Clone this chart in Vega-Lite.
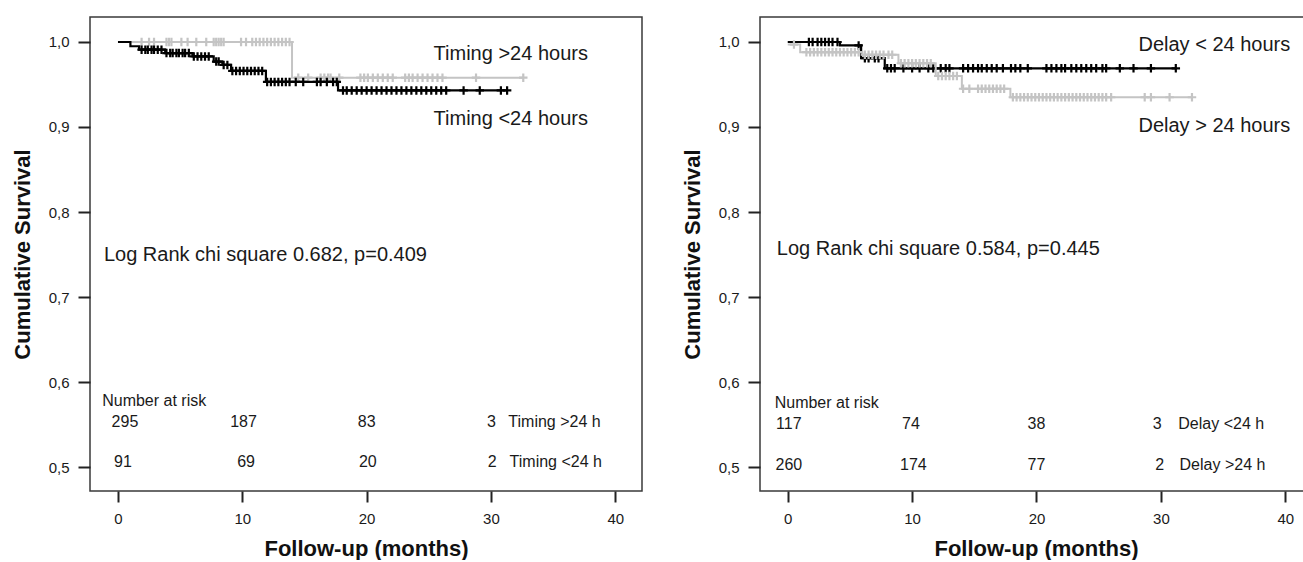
{
  "$schema": "https://vega.github.io/schema/vega-lite/v6.json",
  "autosize": {"type": "pad"},
  "padding": {"left": 10, "top": 16, "right": 0, "bottom": 0},
  "bounds": "flush",
  "spacing": 118,
  "background": "white",
  "config": {
    "font": "Liberation Sans",
    "view": {"stroke": "#3a3a3a", "strokeWidth": 1.5},
    "axis": {"grid": false, "domain": false, "tickColor": "#222", "tickWidth": 2, "labelColor": "#1a1a1a", "labelFont": "Liberation Sans", "labelFontSize": 15, "titleFont": "Liberation Sans", "titleFontWeight": "bold", "titleFontSize": 22, "titleColor": "#111"},
    "axisX": {"tickSize": 11, "labelPadding": 9, "titlePadding": 12},
    "axisY": {"tickSize": 12, "labelPadding": 9, "titlePadding": 14},
    "text": {"font": "Liberation Sans", "color": "#1a1a1a"},
    "point": {"shape": "M-1,0H1M0,-1V1", "filled": false, "size": 72, "strokeWidth": 2.2, "opacity": 1}
  },
  "datasets": {
    "kmL": [
      {"group": "Timing >24 hours", "t": 0, "s": 1.0},
      {"group": "Timing >24 hours", "t": 14.0, "s": 0.958},
      {"group": "Timing >24 hours", "t": 32.6, "s": 0.958},
      {"group": "Timing <24 hours", "t": 0, "s": 1.0},
      {"group": "Timing <24 hours", "t": 1.0, "s": 0.995},
      {"group": "Timing <24 hours", "t": 1.7, "s": 0.991},
      {"group": "Timing <24 hours", "t": 3.8, "s": 0.987},
      {"group": "Timing <24 hours", "t": 6.0, "s": 0.983},
      {"group": "Timing <24 hours", "t": 7.7, "s": 0.977},
      {"group": "Timing <24 hours", "t": 8.4, "s": 0.973},
      {"group": "Timing <24 hours", "t": 9.1, "s": 0.966},
      {"group": "Timing <24 hours", "t": 11.9, "s": 0.953},
      {"group": "Timing <24 hours", "t": 17.7, "s": 0.943},
      {"group": "Timing <24 hours", "t": 31.3, "s": 0.943}
    ],
    "censL": [
      {"group": "Timing >24 hours", "t": 1.9, "s": 1.0},
      {"group": "Timing >24 hours", "t": 2.5, "s": 1.0},
      {"group": "Timing >24 hours", "t": 2.9, "s": 1.0},
      {"group": "Timing >24 hours", "t": 3.9, "s": 1.0},
      {"group": "Timing >24 hours", "t": 4.1, "s": 1.0},
      {"group": "Timing >24 hours", "t": 4.3, "s": 1.0},
      {"group": "Timing >24 hours", "t": 5.1, "s": 1.0},
      {"group": "Timing >24 hours", "t": 5.6, "s": 1.0},
      {"group": "Timing >24 hours", "t": 6.3, "s": 1.0},
      {"group": "Timing >24 hours", "t": 7.1, "s": 1.0},
      {"group": "Timing >24 hours", "t": 7.7, "s": 1.0},
      {"group": "Timing >24 hours", "t": 7.9, "s": 1.0},
      {"group": "Timing >24 hours", "t": 8.1, "s": 1.0},
      {"group": "Timing >24 hours", "t": 8.3, "s": 1.0},
      {"group": "Timing >24 hours", "t": 8.5, "s": 1.0},
      {"group": "Timing >24 hours", "t": 9.9, "s": 1.0},
      {"group": "Timing >24 hours", "t": 10.3, "s": 1.0},
      {"group": "Timing >24 hours", "t": 10.8, "s": 1.0},
      {"group": "Timing >24 hours", "t": 11.1, "s": 1.0},
      {"group": "Timing >24 hours", "t": 11.4, "s": 1.0},
      {"group": "Timing >24 hours", "t": 11.7, "s": 1.0},
      {"group": "Timing >24 hours", "t": 12.0, "s": 1.0},
      {"group": "Timing >24 hours", "t": 12.3, "s": 1.0},
      {"group": "Timing >24 hours", "t": 12.6, "s": 1.0},
      {"group": "Timing >24 hours", "t": 12.9, "s": 1.0},
      {"group": "Timing >24 hours", "t": 13.2, "s": 1.0},
      {"group": "Timing >24 hours", "t": 13.5, "s": 1.0},
      {"group": "Timing >24 hours", "t": 13.8, "s": 1.0},
      {"group": "Timing >24 hours", "t": 14.5, "s": 0.958},
      {"group": "Timing >24 hours", "t": 15.3, "s": 0.958},
      {"group": "Timing >24 hours", "t": 16.3, "s": 0.958},
      {"group": "Timing >24 hours", "t": 16.6, "s": 0.958},
      {"group": "Timing >24 hours", "t": 16.9, "s": 0.958},
      {"group": "Timing >24 hours", "t": 17.1, "s": 0.958},
      {"group": "Timing >24 hours", "t": 17.8, "s": 0.958},
      {"group": "Timing >24 hours", "t": 19.5, "s": 0.958},
      {"group": "Timing >24 hours", "t": 19.8, "s": 0.958},
      {"group": "Timing >24 hours", "t": 20.1, "s": 0.958},
      {"group": "Timing >24 hours", "t": 20.5, "s": 0.958},
      {"group": "Timing >24 hours", "t": 20.9, "s": 0.958},
      {"group": "Timing >24 hours", "t": 21.3, "s": 0.958},
      {"group": "Timing >24 hours", "t": 21.7, "s": 0.958},
      {"group": "Timing >24 hours", "t": 22.1, "s": 0.958},
      {"group": "Timing >24 hours", "t": 23.1, "s": 0.958},
      {"group": "Timing >24 hours", "t": 23.4, "s": 0.958},
      {"group": "Timing >24 hours", "t": 23.7, "s": 0.958},
      {"group": "Timing >24 hours", "t": 24.1, "s": 0.958},
      {"group": "Timing >24 hours", "t": 24.5, "s": 0.958},
      {"group": "Timing >24 hours", "t": 24.9, "s": 0.958},
      {"group": "Timing >24 hours", "t": 25.3, "s": 0.958},
      {"group": "Timing >24 hours", "t": 25.7, "s": 0.958},
      {"group": "Timing >24 hours", "t": 26.1, "s": 0.958},
      {"group": "Timing >24 hours", "t": 28.8, "s": 0.958},
      {"group": "Timing >24 hours", "t": 32.6, "s": 0.958},
      {"group": "Timing <24 hours", "t": 1.9, "s": 0.991},
      {"group": "Timing <24 hours", "t": 2.2, "s": 0.991},
      {"group": "Timing <24 hours", "t": 2.4, "s": 0.991},
      {"group": "Timing <24 hours", "t": 2.7, "s": 0.991},
      {"group": "Timing <24 hours", "t": 2.9, "s": 0.991},
      {"group": "Timing <24 hours", "t": 3.2, "s": 0.991},
      {"group": "Timing <24 hours", "t": 3.5, "s": 0.991},
      {"group": "Timing <24 hours", "t": 3.9, "s": 0.987},
      {"group": "Timing <24 hours", "t": 4.2, "s": 0.987},
      {"group": "Timing <24 hours", "t": 4.4, "s": 0.987},
      {"group": "Timing <24 hours", "t": 4.7, "s": 0.987},
      {"group": "Timing <24 hours", "t": 4.9, "s": 0.987},
      {"group": "Timing <24 hours", "t": 5.2, "s": 0.987},
      {"group": "Timing <24 hours", "t": 5.4, "s": 0.987},
      {"group": "Timing <24 hours", "t": 5.7, "s": 0.987},
      {"group": "Timing <24 hours", "t": 6.1, "s": 0.983},
      {"group": "Timing <24 hours", "t": 6.4, "s": 0.983},
      {"group": "Timing <24 hours", "t": 6.7, "s": 0.983},
      {"group": "Timing <24 hours", "t": 7.0, "s": 0.983},
      {"group": "Timing <24 hours", "t": 7.3, "s": 0.983},
      {"group": "Timing <24 hours", "t": 7.9, "s": 0.977},
      {"group": "Timing <24 hours", "t": 8.1, "s": 0.977},
      {"group": "Timing <24 hours", "t": 8.5, "s": 0.973},
      {"group": "Timing <24 hours", "t": 8.8, "s": 0.973},
      {"group": "Timing <24 hours", "t": 9.2, "s": 0.966},
      {"group": "Timing <24 hours", "t": 9.5, "s": 0.966},
      {"group": "Timing <24 hours", "t": 9.8, "s": 0.966},
      {"group": "Timing <24 hours", "t": 10.1, "s": 0.966},
      {"group": "Timing <24 hours", "t": 10.4, "s": 0.966},
      {"group": "Timing <24 hours", "t": 10.7, "s": 0.966},
      {"group": "Timing <24 hours", "t": 11.0, "s": 0.966},
      {"group": "Timing <24 hours", "t": 11.3, "s": 0.966},
      {"group": "Timing <24 hours", "t": 11.6, "s": 0.966},
      {"group": "Timing <24 hours", "t": 12.0, "s": 0.953},
      {"group": "Timing <24 hours", "t": 12.3, "s": 0.953},
      {"group": "Timing <24 hours", "t": 12.6, "s": 0.953},
      {"group": "Timing <24 hours", "t": 12.9, "s": 0.953},
      {"group": "Timing <24 hours", "t": 13.2, "s": 0.953},
      {"group": "Timing <24 hours", "t": 13.5, "s": 0.953},
      {"group": "Timing <24 hours", "t": 13.8, "s": 0.953},
      {"group": "Timing <24 hours", "t": 14.3, "s": 0.953},
      {"group": "Timing <24 hours", "t": 14.9, "s": 0.953},
      {"group": "Timing <24 hours", "t": 16.0, "s": 0.953},
      {"group": "Timing <24 hours", "t": 16.3, "s": 0.953},
      {"group": "Timing <24 hours", "t": 16.8, "s": 0.953},
      {"group": "Timing <24 hours", "t": 17.3, "s": 0.953},
      {"group": "Timing <24 hours", "t": 17.6, "s": 0.953},
      {"group": "Timing <24 hours", "t": 18.1, "s": 0.943},
      {"group": "Timing <24 hours", "t": 18.4, "s": 0.943},
      {"group": "Timing <24 hours", "t": 18.8, "s": 0.943},
      {"group": "Timing <24 hours", "t": 19.2, "s": 0.943},
      {"group": "Timing <24 hours", "t": 19.6, "s": 0.943},
      {"group": "Timing <24 hours", "t": 20.0, "s": 0.943},
      {"group": "Timing <24 hours", "t": 20.4, "s": 0.943},
      {"group": "Timing <24 hours", "t": 20.8, "s": 0.943},
      {"group": "Timing <24 hours", "t": 21.2, "s": 0.943},
      {"group": "Timing <24 hours", "t": 21.6, "s": 0.943},
      {"group": "Timing <24 hours", "t": 22.0, "s": 0.943},
      {"group": "Timing <24 hours", "t": 22.4, "s": 0.943},
      {"group": "Timing <24 hours", "t": 22.8, "s": 0.943},
      {"group": "Timing <24 hours", "t": 23.2, "s": 0.943},
      {"group": "Timing <24 hours", "t": 23.6, "s": 0.943},
      {"group": "Timing <24 hours", "t": 24.0, "s": 0.943},
      {"group": "Timing <24 hours", "t": 24.4, "s": 0.943},
      {"group": "Timing <24 hours", "t": 24.8, "s": 0.943},
      {"group": "Timing <24 hours", "t": 25.2, "s": 0.943},
      {"group": "Timing <24 hours", "t": 25.6, "s": 0.943},
      {"group": "Timing <24 hours", "t": 26.0, "s": 0.943},
      {"group": "Timing <24 hours", "t": 26.4, "s": 0.943},
      {"group": "Timing <24 hours", "t": 27.8, "s": 0.943},
      {"group": "Timing <24 hours", "t": 29.1, "s": 0.943},
      {"group": "Timing <24 hours", "t": 30.8, "s": 0.943},
      {"group": "Timing <24 hours", "t": 31.3, "s": 0.943}
    ],
    "kmR": [
      {"group": "Delay > 24 hours", "t": 0, "s": 0.997},
      {"group": "Delay > 24 hours", "t": 1.0, "s": 0.988},
      {"group": "Delay > 24 hours", "t": 6.0, "s": 0.985},
      {"group": "Delay > 24 hours", "t": 8.9, "s": 0.975},
      {"group": "Delay > 24 hours", "t": 11.9, "s": 0.96},
      {"group": "Delay > 24 hours", "t": 14.0, "s": 0.945},
      {"group": "Delay > 24 hours", "t": 17.9, "s": 0.935},
      {"group": "Delay > 24 hours", "t": 32.5, "s": 0.935},
      {"group": "Delay < 24 hours", "t": 0, "s": 1.0},
      {"group": "Delay < 24 hours", "t": 4.2, "s": 0.996},
      {"group": "Delay < 24 hours", "t": 5.9, "s": 0.981},
      {"group": "Delay < 24 hours", "t": 7.8, "s": 0.969},
      {"group": "Delay < 24 hours", "t": 31.2, "s": 0.969}
    ],
    "censR": [
      {"group": "Delay > 24 hours", "t": 0.5, "s": 0.997},
      {"group": "Delay > 24 hours", "t": 1.5, "s": 0.988},
      {"group": "Delay > 24 hours", "t": 1.8, "s": 0.988},
      {"group": "Delay > 24 hours", "t": 2.1, "s": 0.988},
      {"group": "Delay > 24 hours", "t": 2.4, "s": 0.988},
      {"group": "Delay > 24 hours", "t": 2.7, "s": 0.988},
      {"group": "Delay > 24 hours", "t": 3.0, "s": 0.988},
      {"group": "Delay > 24 hours", "t": 3.3, "s": 0.988},
      {"group": "Delay > 24 hours", "t": 3.6, "s": 0.988},
      {"group": "Delay > 24 hours", "t": 3.9, "s": 0.988},
      {"group": "Delay > 24 hours", "t": 4.2, "s": 0.988},
      {"group": "Delay > 24 hours", "t": 4.5, "s": 0.988},
      {"group": "Delay > 24 hours", "t": 4.8, "s": 0.988},
      {"group": "Delay > 24 hours", "t": 5.1, "s": 0.988},
      {"group": "Delay > 24 hours", "t": 5.4, "s": 0.988},
      {"group": "Delay > 24 hours", "t": 5.7, "s": 0.988},
      {"group": "Delay > 24 hours", "t": 6.2, "s": 0.985},
      {"group": "Delay > 24 hours", "t": 6.5, "s": 0.985},
      {"group": "Delay > 24 hours", "t": 6.8, "s": 0.985},
      {"group": "Delay > 24 hours", "t": 7.1, "s": 0.985},
      {"group": "Delay > 24 hours", "t": 7.4, "s": 0.985},
      {"group": "Delay > 24 hours", "t": 7.7, "s": 0.985},
      {"group": "Delay > 24 hours", "t": 8.1, "s": 0.985},
      {"group": "Delay > 24 hours", "t": 8.4, "s": 0.985},
      {"group": "Delay > 24 hours", "t": 9.1, "s": 0.975},
      {"group": "Delay > 24 hours", "t": 9.4, "s": 0.975},
      {"group": "Delay > 24 hours", "t": 9.7, "s": 0.975},
      {"group": "Delay > 24 hours", "t": 10.0, "s": 0.975},
      {"group": "Delay > 24 hours", "t": 10.3, "s": 0.975},
      {"group": "Delay > 24 hours", "t": 10.6, "s": 0.975},
      {"group": "Delay > 24 hours", "t": 10.9, "s": 0.975},
      {"group": "Delay > 24 hours", "t": 11.2, "s": 0.975},
      {"group": "Delay > 24 hours", "t": 11.5, "s": 0.975},
      {"group": "Delay > 24 hours", "t": 12.1, "s": 0.96},
      {"group": "Delay > 24 hours", "t": 12.4, "s": 0.96},
      {"group": "Delay > 24 hours", "t": 12.7, "s": 0.96},
      {"group": "Delay > 24 hours", "t": 13.0, "s": 0.96},
      {"group": "Delay > 24 hours", "t": 13.3, "s": 0.96},
      {"group": "Delay > 24 hours", "t": 13.6, "s": 0.96},
      {"group": "Delay > 24 hours", "t": 14.1, "s": 0.945},
      {"group": "Delay > 24 hours", "t": 14.6, "s": 0.945},
      {"group": "Delay > 24 hours", "t": 15.3, "s": 0.945},
      {"group": "Delay > 24 hours", "t": 15.6, "s": 0.945},
      {"group": "Delay > 24 hours", "t": 15.9, "s": 0.945},
      {"group": "Delay > 24 hours", "t": 16.2, "s": 0.945},
      {"group": "Delay > 24 hours", "t": 16.5, "s": 0.945},
      {"group": "Delay > 24 hours", "t": 16.8, "s": 0.945},
      {"group": "Delay > 24 hours", "t": 17.1, "s": 0.945},
      {"group": "Delay > 24 hours", "t": 17.4, "s": 0.945},
      {"group": "Delay > 24 hours", "t": 18.1, "s": 0.935},
      {"group": "Delay > 24 hours", "t": 18.4, "s": 0.935},
      {"group": "Delay > 24 hours", "t": 18.7, "s": 0.935},
      {"group": "Delay > 24 hours", "t": 19.0, "s": 0.935},
      {"group": "Delay > 24 hours", "t": 19.3, "s": 0.935},
      {"group": "Delay > 24 hours", "t": 19.6, "s": 0.935},
      {"group": "Delay > 24 hours", "t": 19.9, "s": 0.935},
      {"group": "Delay > 24 hours", "t": 20.2, "s": 0.935},
      {"group": "Delay > 24 hours", "t": 20.5, "s": 0.935},
      {"group": "Delay > 24 hours", "t": 20.8, "s": 0.935},
      {"group": "Delay > 24 hours", "t": 21.1, "s": 0.935},
      {"group": "Delay > 24 hours", "t": 21.4, "s": 0.935},
      {"group": "Delay > 24 hours", "t": 21.7, "s": 0.935},
      {"group": "Delay > 24 hours", "t": 22.0, "s": 0.935},
      {"group": "Delay > 24 hours", "t": 22.3, "s": 0.935},
      {"group": "Delay > 24 hours", "t": 22.6, "s": 0.935},
      {"group": "Delay > 24 hours", "t": 22.9, "s": 0.935},
      {"group": "Delay > 24 hours", "t": 23.2, "s": 0.935},
      {"group": "Delay > 24 hours", "t": 23.5, "s": 0.935},
      {"group": "Delay > 24 hours", "t": 23.8, "s": 0.935},
      {"group": "Delay > 24 hours", "t": 24.1, "s": 0.935},
      {"group": "Delay > 24 hours", "t": 24.4, "s": 0.935},
      {"group": "Delay > 24 hours", "t": 24.7, "s": 0.935},
      {"group": "Delay > 24 hours", "t": 25.0, "s": 0.935},
      {"group": "Delay > 24 hours", "t": 25.3, "s": 0.935},
      {"group": "Delay > 24 hours", "t": 25.6, "s": 0.935},
      {"group": "Delay > 24 hours", "t": 26.0, "s": 0.935},
      {"group": "Delay > 24 hours", "t": 28.7, "s": 0.935},
      {"group": "Delay > 24 hours", "t": 29.2, "s": 0.935},
      {"group": "Delay > 24 hours", "t": 30.7, "s": 0.935},
      {"group": "Delay > 24 hours", "t": 32.5, "s": 0.935},
      {"group": "Delay < 24 hours", "t": 1.7, "s": 1.0},
      {"group": "Delay < 24 hours", "t": 2.0, "s": 1.0},
      {"group": "Delay < 24 hours", "t": 2.4, "s": 1.0},
      {"group": "Delay < 24 hours", "t": 2.7, "s": 1.0},
      {"group": "Delay < 24 hours", "t": 3.0, "s": 1.0},
      {"group": "Delay < 24 hours", "t": 3.3, "s": 1.0},
      {"group": "Delay < 24 hours", "t": 3.6, "s": 1.0},
      {"group": "Delay < 24 hours", "t": 4.0, "s": 1.0},
      {"group": "Delay < 24 hours", "t": 5.7, "s": 0.996},
      {"group": "Delay < 24 hours", "t": 6.2, "s": 0.981},
      {"group": "Delay < 24 hours", "t": 6.5, "s": 0.981},
      {"group": "Delay < 24 hours", "t": 7.0, "s": 0.981},
      {"group": "Delay < 24 hours", "t": 7.3, "s": 0.981},
      {"group": "Delay < 24 hours", "t": 8.0, "s": 0.969},
      {"group": "Delay < 24 hours", "t": 8.3, "s": 0.969},
      {"group": "Delay < 24 hours", "t": 8.6, "s": 0.969},
      {"group": "Delay < 24 hours", "t": 9.3, "s": 0.969},
      {"group": "Delay < 24 hours", "t": 10.0, "s": 0.969},
      {"group": "Delay < 24 hours", "t": 10.6, "s": 0.969},
      {"group": "Delay < 24 hours", "t": 11.3, "s": 0.969},
      {"group": "Delay < 24 hours", "t": 11.7, "s": 0.969},
      {"group": "Delay < 24 hours", "t": 12.3, "s": 0.969},
      {"group": "Delay < 24 hours", "t": 12.7, "s": 0.969},
      {"group": "Delay < 24 hours", "t": 13.0, "s": 0.969},
      {"group": "Delay < 24 hours", "t": 14.1, "s": 0.969},
      {"group": "Delay < 24 hours", "t": 14.5, "s": 0.969},
      {"group": "Delay < 24 hours", "t": 14.9, "s": 0.969},
      {"group": "Delay < 24 hours", "t": 15.3, "s": 0.969},
      {"group": "Delay < 24 hours", "t": 15.6, "s": 0.969},
      {"group": "Delay < 24 hours", "t": 16.0, "s": 0.969},
      {"group": "Delay < 24 hours", "t": 16.4, "s": 0.969},
      {"group": "Delay < 24 hours", "t": 16.8, "s": 0.969},
      {"group": "Delay < 24 hours", "t": 17.3, "s": 0.969},
      {"group": "Delay < 24 hours", "t": 17.95, "s": 0.969},
      {"group": "Delay < 24 hours", "t": 18.3, "s": 0.969},
      {"group": "Delay < 24 hours", "t": 18.7, "s": 0.969},
      {"group": "Delay < 24 hours", "t": 19.3, "s": 0.969},
      {"group": "Delay < 24 hours", "t": 20.8, "s": 0.969},
      {"group": "Delay < 24 hours", "t": 21.2, "s": 0.969},
      {"group": "Delay < 24 hours", "t": 21.6, "s": 0.969},
      {"group": "Delay < 24 hours", "t": 22.0, "s": 0.969},
      {"group": "Delay < 24 hours", "t": 22.3, "s": 0.969},
      {"group": "Delay < 24 hours", "t": 22.8, "s": 0.969},
      {"group": "Delay < 24 hours", "t": 23.2, "s": 0.969},
      {"group": "Delay < 24 hours", "t": 23.6, "s": 0.969},
      {"group": "Delay < 24 hours", "t": 24.0, "s": 0.969},
      {"group": "Delay < 24 hours", "t": 24.4, "s": 0.969},
      {"group": "Delay < 24 hours", "t": 24.8, "s": 0.969},
      {"group": "Delay < 24 hours", "t": 25.3, "s": 0.969},
      {"group": "Delay < 24 hours", "t": 25.6, "s": 0.969},
      {"group": "Delay < 24 hours", "t": 26.7, "s": 0.969},
      {"group": "Delay < 24 hours", "t": 27.8, "s": 0.969},
      {"group": "Delay < 24 hours", "t": 29.2, "s": 0.969},
      {"group": "Delay < 24 hours", "t": 31.2, "s": 0.969}
    ]
  },
  "hconcat": [
    {
      "width": 552,
      "height": 474,
      "encoding": {
        "x": {"field": "t", "type": "quantitative", "scale": {"domain": [-2.25, 42.15], "nice": false, "zero": false}, "axis": {"values": [0, 10, 20, 30, 40], "title": "Follow-up (months)"}},
        "y": {"field": "s", "type": "quantitative", "scale": {"domain": [0.4718, 1.0294], "nice": false, "zero": false}, "axis": {"values": [0.5, 0.6, 0.7, 0.8, 0.9, 1.0], "labelExpr": "replace(format(datum.value, '.1f'), '.', ',')", "title": "Cumulative Survival"}}
      },
      "layer": [
        {"data": {"name": "kmL"}, "transform": [{"filter": "datum.group === 'Timing >24 hours'"}], "mark": {"type": "line", "interpolate": "step-after", "strokeWidth": 2, "color": "#c4c4c4"}},
        {"data": {"name": "censL"}, "transform": [{"filter": "datum.group === 'Timing >24 hours'"}], "mark": {"type": "point", "stroke": "#c4c4c4"}},
        {"data": {"name": "kmL"}, "transform": [{"filter": "datum.group === 'Timing <24 hours'"}], "mark": {"type": "line", "interpolate": "step-after", "strokeWidth": 2.2, "color": "#000000"}},
        {"data": {"name": "censL"}, "transform": [{"filter": "datum.group === 'Timing <24 hours'"}], "mark": {"type": "point", "stroke": "#000000"}},
        {"data": {"values": [{"t": 37.8, "s": 0.979, "label": "Timing >24 hours"}, {"t": 37.8, "s": 0.9024, "label": "Timing <24 hours"}]}, "mark": {"type": "text", "align": "right", "baseline": "alphabetic", "fontSize": 20}, "encoding": {"text": {"field": "label"}}},
        {"data": {"values": [{"t": -1.13, "s": 0.749, "label": "Log Rank chi square 0.682, p=0.409"}]}, "mark": {"type": "text", "align": "left", "baseline": "middle", "fontSize": 20}, "encoding": {"text": {"field": "label"}}},
        {"data": {"values": [{"t": -1.27, "s": 0.578, "label": "Number at risk"}, {"t": 31.4, "s": 0.553, "label": "Timing >24 h"}, {"t": 31.5, "s": 0.506, "label": "Timing <24 h"}]}, "mark": {"type": "text", "align": "left", "baseline": "middle", "fontSize": 16}, "encoding": {"text": {"field": "label"}}},
        {"data": {"values": [{"t": 0.56, "s": 0.553, "label": "295"}, {"t": 10.1, "s": 0.553, "label": "187"}, {"t": 20.0, "s": 0.553, "label": "83"}, {"t": 30.05, "s": 0.553, "label": "3"}, {"t": 0.4, "s": 0.506, "label": "91"}, {"t": 10.3, "s": 0.506, "label": "69"}, {"t": 20.1, "s": 0.506, "label": "20"}, {"t": 30.1, "s": 0.506, "label": "2"}]}, "mark": {"type": "text", "align": "center", "baseline": "middle", "fontSize": 16}, "encoding": {"text": {"field": "label"}}}
      ]
    },
    {
      "width": 552,
      "height": 474,
      "encoding": {
        "x": {"field": "t", "type": "quantitative", "scale": {"domain": [-2.23, 42.15], "nice": false, "zero": false}, "axis": {"values": [0, 10, 20, 30, 40], "title": "Follow-up (months)"}},
        "y": {"field": "s", "type": "quantitative", "scale": {"domain": [0.4718, 1.0294], "nice": false, "zero": false}, "axis": {"values": [0.5, 0.6, 0.7, 0.8, 0.9, 1.0], "labelExpr": "replace(format(datum.value, '.1f'), '.', ',')", "title": "Cumulative Survival"}}
      },
      "layer": [
        {"data": {"name": "kmR"}, "transform": [{"filter": "datum.group === 'Delay < 24 hours'"}], "mark": {"type": "line", "interpolate": "step-after", "strokeWidth": 2.2, "color": "#000000"}},
        {"data": {"name": "censR"}, "transform": [{"filter": "datum.group === 'Delay < 24 hours'"}], "mark": {"type": "point", "stroke": "#000000"}},
        {"data": {"name": "kmR"}, "transform": [{"filter": "datum.group === 'Delay > 24 hours'"}], "mark": {"type": "line", "interpolate": "step-after", "strokeWidth": 2, "color": "#c4c4c4"}},
        {"data": {"name": "censR"}, "transform": [{"filter": "datum.group === 'Delay > 24 hours'"}], "mark": {"type": "point", "stroke": "#c4c4c4"}},
        {"data": {"values": [{"t": 40.4, "s": 0.989, "label": "Delay < 24 hours"}, {"t": 40.4, "s": 0.894, "label": "Delay > 24 hours"}]}, "mark": {"type": "text", "align": "right", "baseline": "alphabetic", "fontSize": 20}, "encoding": {"text": {"field": "label"}}},
        {"data": {"values": [{"t": -0.88, "s": 0.757, "label": "Log Rank chi square 0.584, p=0.445"}]}, "mark": {"type": "text", "align": "left", "baseline": "middle", "fontSize": 20}, "encoding": {"text": {"field": "label"}}},
        {"data": {"values": [{"t": -1.05, "s": 0.575, "label": "Number at risk"}, {"t": 31.4, "s": 0.5505, "label": "Delay <24 h"}, {"t": 31.5, "s": 0.5023, "label": "Delay >24 h"}]}, "mark": {"type": "text", "align": "left", "baseline": "middle", "fontSize": 16}, "encoding": {"text": {"field": "label"}}},
        {"data": {"values": [{"t": 0.09, "s": 0.5505, "label": "117"}, {"t": 9.9, "s": 0.5505, "label": "74"}, {"t": 20.0, "s": 0.5505, "label": "38"}, {"t": 29.7, "s": 0.5505, "label": "3"}, {"t": 0.09, "s": 0.5023, "label": "260"}, {"t": 10.1, "s": 0.5023, "label": "174"}, {"t": 20.0, "s": 0.5023, "label": "77"}, {"t": 29.9, "s": 0.5023, "label": "2"}]}, "mark": {"type": "text", "align": "center", "baseline": "middle", "fontSize": 16}, "encoding": {"text": {"field": "label"}}}
      ]
    }
  ]
}
